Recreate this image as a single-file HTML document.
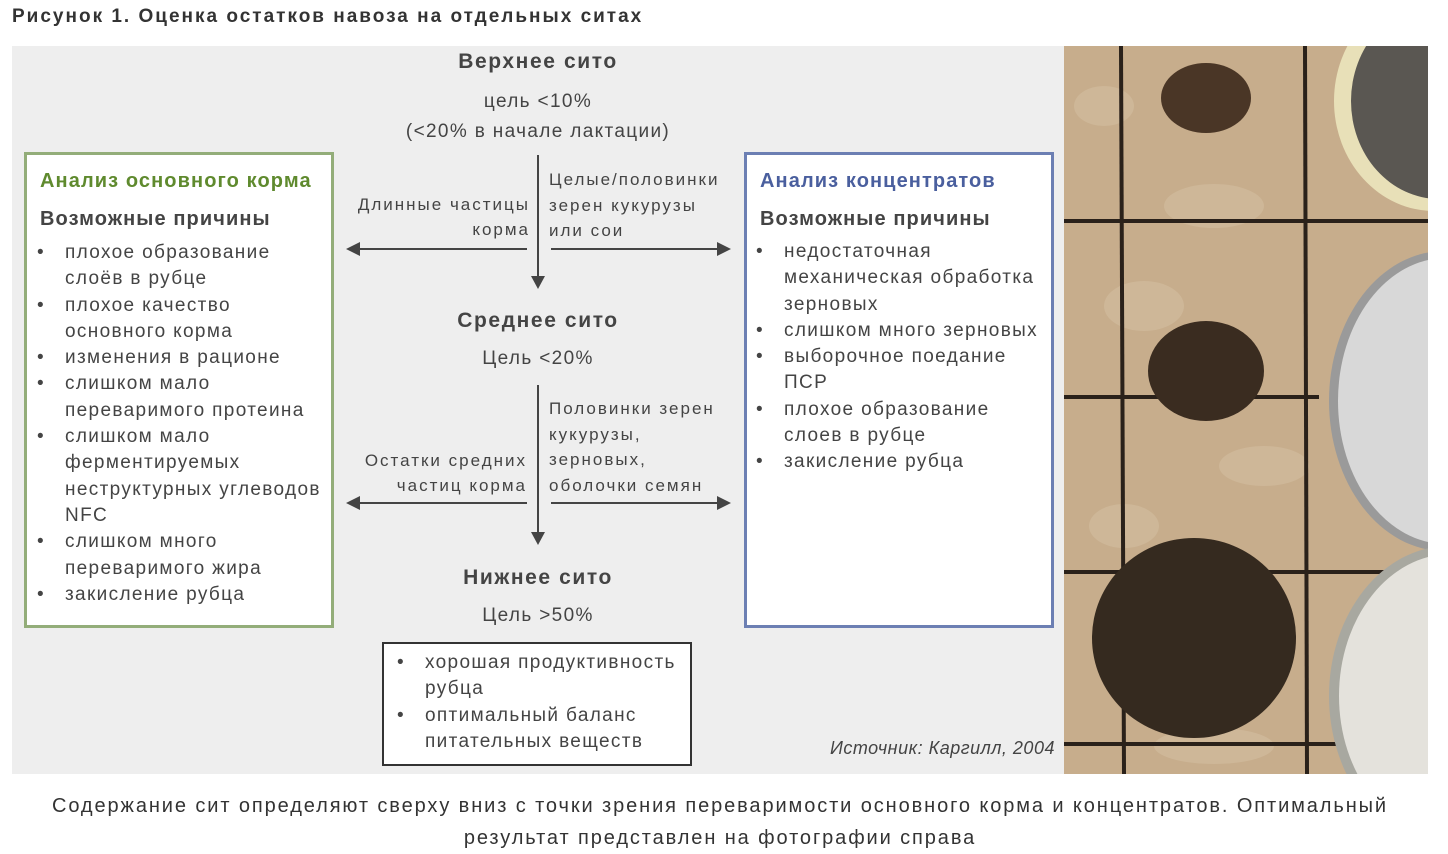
<!DOCTYPE html><html><head><meta charset="utf-8"><style>
body{margin:0;width:1448px;height:854px;background:#fff;position:relative;font-family:"Liberation Sans",sans-serif;color:#444;overflow:hidden}
.a{position:absolute;white-space:nowrap}
.c{text-align:center}
.t{font-size:19px;line-height:26.3px;letter-spacing:1.35px}
.s{font-size:17px;line-height:25.5px;letter-spacing:2px}
.h{font-size:21px;font-weight:bold;letter-spacing:1.6px}
.hb{font-size:20px;font-weight:bold;letter-spacing:1.1px}
ul{margin:0;padding:0;list-style:none}
li{position:relative;padding-left:40px}
li:before{content:"•";position:absolute;left:12px}
</style></head><body>
<div class="a" style="left:12px;top:6px;font-size:19px;font-weight:bold;color:#333;letter-spacing:2px">Рисунок 1. Оценка остатков навоза на отдельных ситах</div>
<div class="a" style="left:12px;top:46px;width:1052px;height:728px;background:#eeeeee"></div>
<div class="a c h" style="left:338px;width:400px;top:50px">Верхнее сито</div>
<div class="a c t" style="left:338px;width:400px;top:87px;line-height:30px">цель &lt;10%<br>(&lt;20% в начале лактации)</div>
<div class="a c h" style="left:338px;width:400px;top:309px">Среднее сито</div>
<div class="a c t" style="left:338px;width:400px;top:346px">Цель &lt;20%</div>
<div class="a c h" style="left:338px;width:400px;top:566px">Нижнее сито</div>
<div class="a c t" style="left:338px;width:400px;top:603px">Цель &gt;50%</div>
<div class="a s" style="left:300px;width:230px;top:192px;text-align:right;line-height:25px">Длинные частицы<br>корма</div>
<div class="a s" style="left:549px;top:167px;line-height:25.5px">Целые/половинки<br>зерен кукурузы<br>или сои</div>
<div class="a s" style="left:300px;width:227px;top:448px;text-align:right;line-height:25px">Остатки средних<br>частиц корма</div>
<div class="a s" style="left:549px;top:396px;line-height:25.5px">Половинки зерен<br>кукурузы,<br>зерновых,<br>оболочки семян</div>
<svg class="a" style="left:0;top:0" width="1448" height="854">
<g stroke="#444" stroke-width="2" fill="#444">
<line x1="538" y1="155" x2="538" y2="278"/><polygon points="531,276 545,276 538,289" stroke="none"/>
<line x1="538" y1="385" x2="538" y2="534"/><polygon points="531,532 545,532 538,545" stroke="none"/>
<line x1="527" y1="249" x2="358" y2="249"/><polygon points="360,242 360,256 346,249" stroke="none"/>
<line x1="551" y1="249" x2="719" y2="249"/><polygon points="717,242 717,256 731,249" stroke="none"/>
<line x1="527" y1="503" x2="358" y2="503"/><polygon points="360,496 360,510 346,503" stroke="none"/>
<line x1="551" y1="503" x2="719" y2="503"/><polygon points="717,496 717,510 731,503" stroke="none"/>
</g></svg>
<div class="a" style="left:24px;top:152px;width:304px;height:470px;border:3px solid #93ad79;background:#fff"></div>
<div class="a hb" style="left:40px;top:170px;color:#5f8a2e">Анализ основного корма</div>
<div class="a hb" style="left:40px;top:208px">Возможные причины</div>
<ul class="a t" style="left:25px;top:240px">
<li>плохое образование<br>слоёв в рубце</li><li>плохое качество<br>основного корма</li><li>изменения в рационе</li><li>слишком мало<br>переваримого протеина</li><li>слишком мало<br>ферментируемых<br>неструктурных углеводов<br>NFC</li><li>слишком много<br>переваримого жира</li><li>закисление рубца</li></ul>
<div class="a" style="left:744px;top:152px;width:304px;height:470px;border:3px solid #6c7fb3;background:#fff"></div>
<div class="a hb" style="left:760px;top:170px;color:#4a5f9e">Анализ концентратов</div>
<div class="a hb" style="left:760px;top:208px">Возможные причины</div>
<ul class="a t" style="left:744px;top:239px">
<li>недостаточная<br>механическая обработка<br>зерновых</li><li>слишком много зерновых</li><li>выборочное поедание<br>ПСР</li><li>плохое образование<br>слоев в рубце</li><li>закисление рубца</li></ul>
<div class="a" style="left:382px;top:642px;width:306px;height:120px;border:2px solid #333;background:#fff"></div>
<ul class="a t" style="left:385px;top:650px"><li>хорошая продуктивность<br>рубца</li><li>оптимальный баланс<br>питательных веществ</li></ul>
<div class="a" style="left:830px;top:738px;font-size:18px;font-style:italic;letter-spacing:0.5px">Источник: Каргилл, 2004</div>
<svg class="a" style="left:1064px;top:46px" width="364" height="728">
<rect width="364" height="728" fill="#c7ad8c"/>
<g fill="#d6c1a4" opacity=".5"><ellipse cx="40" cy="60" rx="30" ry="20"/><ellipse cx="150" cy="160" rx="50" ry="22"/><ellipse cx="80" cy="260" rx="40" ry="25"/><ellipse cx="200" cy="420" rx="45" ry="20"/><ellipse cx="60" cy="480" rx="35" ry="22"/><ellipse cx="150" cy="700" rx="60" ry="18"/></g>
<g stroke="#2a211a" stroke-width="4"><line x1="57" y1="0" x2="60" y2="728"/><line x1="241" y1="0" x2="243" y2="728"/><line x1="0" y1="175" x2="364" y2="175"/><line x1="0" y1="351" x2="255" y2="351"/><line x1="0" y1="526" x2="364" y2="526"/><line x1="0" y1="698" x2="364" y2="698"/></g>
<ellipse cx="142" cy="52" rx="45" ry="35" fill="#4a3626"/>
<ellipse cx="142" cy="325" rx="58" ry="50" fill="#3a2c20"/>
<ellipse cx="130" cy="592" rx="102" ry="100" fill="#352a1f"/>
<ellipse cx="370" cy="55" rx="100" ry="110" fill="#e8e0b8"/><ellipse cx="375" cy="55" rx="88" ry="98" fill="#5a5752"/>
<ellipse cx="380" cy="355" rx="115" ry="150" fill="#9a9a9a"/><ellipse cx="382" cy="355" rx="108" ry="143" fill="#d8d8d8"/>
<ellipse cx="385" cy="650" rx="120" ry="150" fill="#a8a8a0"/><ellipse cx="387" cy="650" rx="112" ry="142" fill="#e4e2dc"/>
</svg>
<div class="a c" style="left:0;width:1440px;top:790px;font-size:20px;line-height:32px;color:#333;letter-spacing:1.9px">Содержание сит определяют сверху вниз с точки зрения переваримости основного корма и концентратов. Оптимальный<br>результат представлен на фотографии справа</div>
</body></html>
